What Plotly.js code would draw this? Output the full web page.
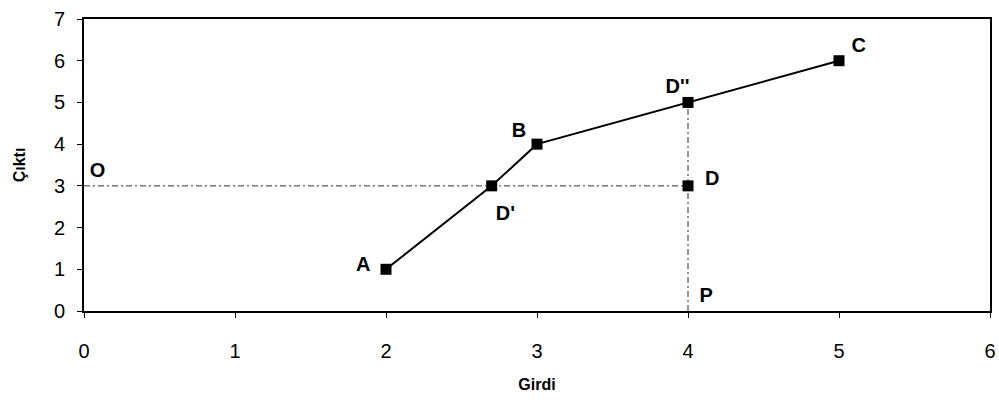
<!DOCTYPE html>
<html><head><meta charset="utf-8">
<script src="https://cdn.plot.ly/plotly-3.0.1.min.js"></script>
<style>html,body{margin:0;padding:0;background:#fff}#c{width:999px;height:407px}</style>
</head><body><div id="c"></div>
<script>
// Main curve points (A, D', B, D'', C)
const curveX = [2, 2.7, 3, 4, 5];
const curveY = [1, 3, 4, 5, 6];
// Isolated point D
const pointDX = [4];
const pointDY = [3];
// Dashed guide lines: O -> D (horizontal), P -> D'' (vertical)
const guideHX = [0, 4];
const guideHY = [3, 3];
const guideVX = [4, 4];
const guideVY = [0, 5];
// Point labels
const labelText = ["O", "A", "D'", "B", "D''", "C", "D", "P"];
const labelX = [0.09, 1.85, 2.79, 2.88, 3.93, 5.13, 4.16, 4.12];
const labelY = [3.34, 1.07, 2.3, 4.3, 5.34, 6.33, 3.15, 0.34];

const traces = [
  {x: guideHX, y: guideHY, mode: 'lines', line: {color: '#333', width: 1, dash: '6px,3px,2px,3px'}, hoverinfo: 'skip'},
  {x: guideVX, y: guideVY, mode: 'lines', line: {color: '#333', width: 1, dash: '6px,3px,2px,3px'}, hoverinfo: 'skip'},
  {x: curveX, y: curveY, mode: 'lines+markers', line: {color: '#000', width: 2}, marker: {symbol: 'square', size: 11, color: '#000'}},
  {x: pointDX, y: pointDY, mode: 'markers', marker: {symbol: 'square', size: 11, color: '#000'}},
  {x: labelX, y: labelY, mode: 'text', text: labelText, textposition: 'middle center',
   textfont: {family: 'Liberation Sans, Arial, sans-serif', size: 20, color: '#000', weight: 'bold'}, hoverinfo: 'skip'}
];

const layout = {
  width: 999, height: 407,
  margin: {l: 84, r: 9, t: 19, b: 96},
  paper_bgcolor: '#fff', plot_bgcolor: '#fff',
  showlegend: false,
  font: {family: 'Liberation Sans, Arial, sans-serif', color: '#000'},
  xaxis: {
    range: [0, 6], dtick: 1, tick0: 0, showgrid: false, zeroline: false,
    showline: true, linecolor: '#000', linewidth: 2, mirror: true,
    ticks: 'outside', ticklen: 5, tickcolor: '#000', tickwidth: 1,
    ticklabelstandoff: 16,
    tickfont: {size: 20, color: '#000'},
    title: {text: '<b>Girdi</b>', font: {size: 16, color: '#000'}, standoff: 18}
  },
  yaxis: {
    range: [0, 7], dtick: 1, tick0: 0, showgrid: false, zeroline: false,
    showline: true, linecolor: '#000', linewidth: 2, mirror: true,
    ticks: 'outside', ticklen: 5, tickcolor: '#000', tickwidth: 1,
    ticklabelstandoff: 8,
    tickfont: {size: 20, color: '#000'},
    title: {text: '<b>Çıktı</b>', font: {size: 16, color: '#000'}, standoff: 24}
  }
};
Plotly.newPlot('c', traces, layout, {displayModeBar: false, staticPlot: true});
</script></body></html>
